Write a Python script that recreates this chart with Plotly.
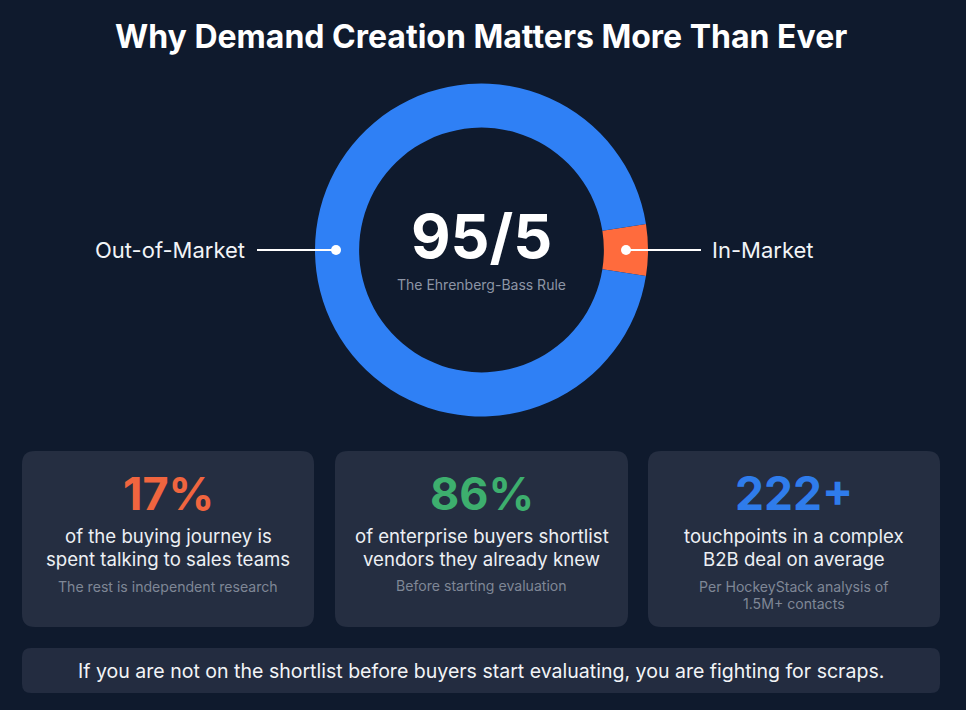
import plotly.graph_objects as go

TITLE = "Why Demand Creation Matters More Than Ever"
segment_labels = ["In-Market", "Out-of-Market"]
segment_values = [5, 95]
segment_colors = ["#FF6B3D", "#2F80F5"]
center_big = "95/5"
center_small = "The Ehrenberg-Bass Rule"
stat_values = ["17%", "86%", "222+"]
stat_colors = ["#F0653F", "#3DAF6E", "#2F7CEB"]
stat_lines = [
    ["of the buying journey is", "spent talking to sales teams"],
    ["of enterprise buyers shortlist", "vendors they already knew"],
    ["touchpoints in a complex", "B2B deal on average"],
]
stat_notes = [
    ["The rest is independent research"],
    ["Before starting evaluation"],
    ["Per HockeyStack analysis of", "1.5M+ contacts"],
]
footer = "If you are not on the shortlist before buyers start evaluating, you are fighting for scraps."

W, H = 966, 710
BG = "#0F1A2D"
CARD = "#252E41"
FONT = "Inter"


def rrect(x0, y0, x1, y1, r, color):
    path = (f"M{x0+r},{y0} L{x1-r},{y0} Q{x1},{y0} {x1},{y0+r} L{x1},{y1-r} Q{x1},{y1} {x1-r},{y1} "
            f"L{x0+r},{y1} Q{x0},{y1} {x0},{y1-r} L{x0},{y0+r} Q{x0},{y0} {x0+r},{y0} Z")
    return dict(type="path", path=path, xref="x", yref="y", fillcolor=color, line=dict(width=0), layer="below")


def text(x, y, s, size, color, weight=400):
    return dict(x=x, y=y, xref="x", yref="y", text=s, showarrow=False, xanchor="center", yanchor="middle",
                font=dict(family=FONT, size=size, color=color, weight=weight))


cx, cy, R = 481.5, 250, 166.5
fig = go.Figure()
fig.add_trace(go.Scatter(x=[0, W], y=[0, H], mode="markers", marker=dict(opacity=0), hoverinfo="skip", showlegend=False))
fig.add_trace(go.Pie(
    labels=segment_labels, values=segment_values, hole=0.735, sort=False, direction="clockwise",
    rotation=81, marker=dict(colors=segment_colors, line=dict(width=0)), textinfo="none", hoverinfo="label+percent",
    showlegend=False,
    domain=dict(x=[(cx - R) / W, (cx + R) / W], y=[1 - (cy + R) / H, 1 - (cy - R) / H]),
))

shapes = []
cards = [(22, 314), (335, 628), (648, 940)]
for x0, x1 in cards:
    shapes.append(rrect(x0, 451, x1, 627, 13, CARD))
shapes.append(rrect(22, 648, 940, 693, 9, "#232C40"))
for x0, x1 in [(257, 336), (626, 701)]:
    shapes.append(dict(type="line", xref="x", yref="y", x0=x0, x1=x1, y0=250, y1=250, line=dict(color="#FFFFFF", width=2), layer="above"))
for x in (336, 626):
    shapes.append(dict(type="circle", xref="x", yref="y", x0=x - 5, x1=x + 5, y0=245, y1=255, fillcolor="#FFFFFF", line=dict(width=0), layer="above"))

ann = [
    text(481, 36, TITLE, 32, "#FFFFFF", 700),
    text(481, 236, center_big, 61, "#FFFFFF", 700),
    text(481, 284, center_small, 14, "#8D95A5"),
    text(170, 250, segment_labels[1], 22, "#F2F4F7", 400),
    text(762, 250, segment_labels[0], 22, "#F2F4F7", 400),
    text(481, 671, footer, 19.55, "#F2F4F7", 400),
]
for i, (x0, x1) in enumerate(cards):
    mid = (x0 + x1) / 2
    ann.append(text(mid, 493, stat_values[i], 46 if i == 2 else 45, stat_colors[i], 700))
    for j, line in enumerate(stat_lines[i]):
        ann.append(text(mid, 536 + j * 23, line, 18.6, "#EDF0F4", 400))
    for j, line in enumerate(stat_notes[i]):
        ann.append(text(mid, 586 + j * 17, line, 14.1, "#7F8796"))

fig.update_layout(
    width=W, height=H, margin=dict(l=0, r=0, t=0, b=0), autosize=False,
    paper_bgcolor=BG, plot_bgcolor=BG,
    xaxis=dict(range=[0, W], visible=False, fixedrange=True),
    yaxis=dict(range=[H, 0], visible=False, fixedrange=True),
    shapes=shapes, annotations=ann,
)
fig.write_html("out.html", config=dict(displayModeBar=False),
               post_script=f"document.body.style.margin='0';document.body.style.overflow='hidden';document.body.style.background='{BG}';")
